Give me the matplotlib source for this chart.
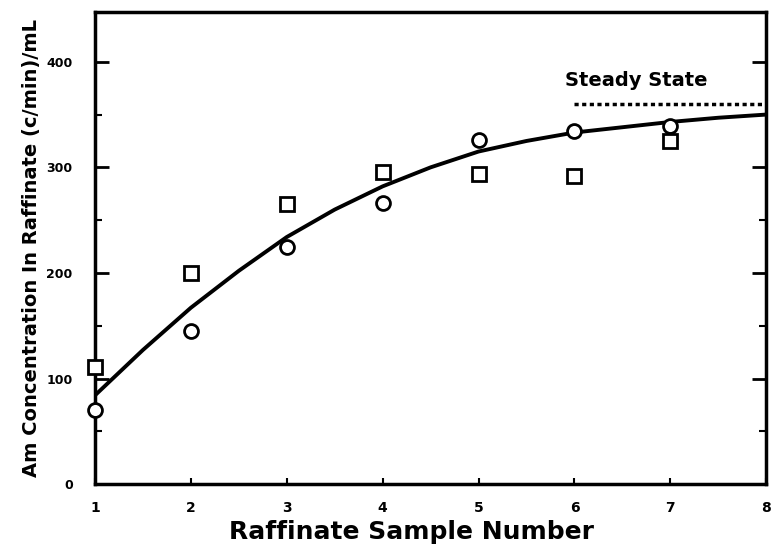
import matplotlib

matplotlib.use("Agg")
import matplotlib.pyplot as plt

# ---------------------------------------------------------------------------
# Data
# ---------------------------------------------------------------------------
sample = [1, 2, 3, 4, 5, 6, 7]
conc_circle = [70, 145, 225, 266, 326, 334, 339]
conc_square = [111, 200, 265, 296, 294, 292, 325]

curve_x = [1, 1.5, 2, 2.5, 3, 3.5, 4, 4.5, 5, 5.5, 6, 6.5, 7, 7.5, 8]
curve_y = [84, 127, 167, 202, 234, 260, 282, 300, 315, 325, 333, 338, 343, 347, 350]

steady_x = [6.0, 8.0]
steady_y = [360, 360]

x_ticks = [1, 2, 3, 4, 5, 6, 7, 8]
y_ticks = [0, 100, 200, 300, 400]

plt.rcParams["font.family"] = ["DejaVu Sans"]
plt.rcParams["font.weight"] = "bold"

fig, ax = plt.subplots(figsize=(7.78, 5.52), dpi=100)
fig.subplots_adjust(left=0.122, right=0.985, bottom=0.123, top=0.978)

ax.plot(curve_x, curve_y, color="black", linewidth=2.8, zorder=2)
ax.plot(sample, conc_circle, linestyle="none", marker="o", markersize=10, clip_on=False,
        markerfacecolor="white", markeredgecolor="black", markeredgewidth=2, zorder=3)
ax.plot(sample, conc_square, linestyle="none", marker="s", markersize=10, clip_on=False,
        markerfacecolor="white", markeredgecolor="black", markeredgewidth=2, zorder=3)
ax.plot(steady_x, steady_y, color="black", linewidth=2.5, linestyle=(0, (1.2, 1.0)))
ax.text(5.9, 373, "Steady State", fontsize=14, fontweight="bold", ha="left", va="bottom")

ax.set_xlim(1, 8)
ax.set_ylim(0, 447)
ax.set_xticks(x_ticks)
ax.set_yticks(y_ticks)
ax.set_yticks([50, 150, 250, 350], minor=True)
ax.tick_params(axis="y", direction="in", length=10, width=2, labelsize=9, right=True, pad=16)
ax.tick_params(axis="y", which="minor", direction="in", length=5, width=1.5, right=True)
ax.tick_params(axis="x", direction="in", length=4, width=1.5, labelsize=10, pad=12)
for sp in ax.spines.values():
    sp.set_linewidth(2.5)

ax.set_xlabel("Raffinate Sample Number", fontsize=18, fontweight="bold")
ax.xaxis.set_label_coords(0.472, -0.075)
ax.set_ylabel("Am Concentration In Raffinate (c/min)/mL", fontsize=14, fontweight="bold", labelpad=4)

fig.savefig("out.png", dpi=100)
